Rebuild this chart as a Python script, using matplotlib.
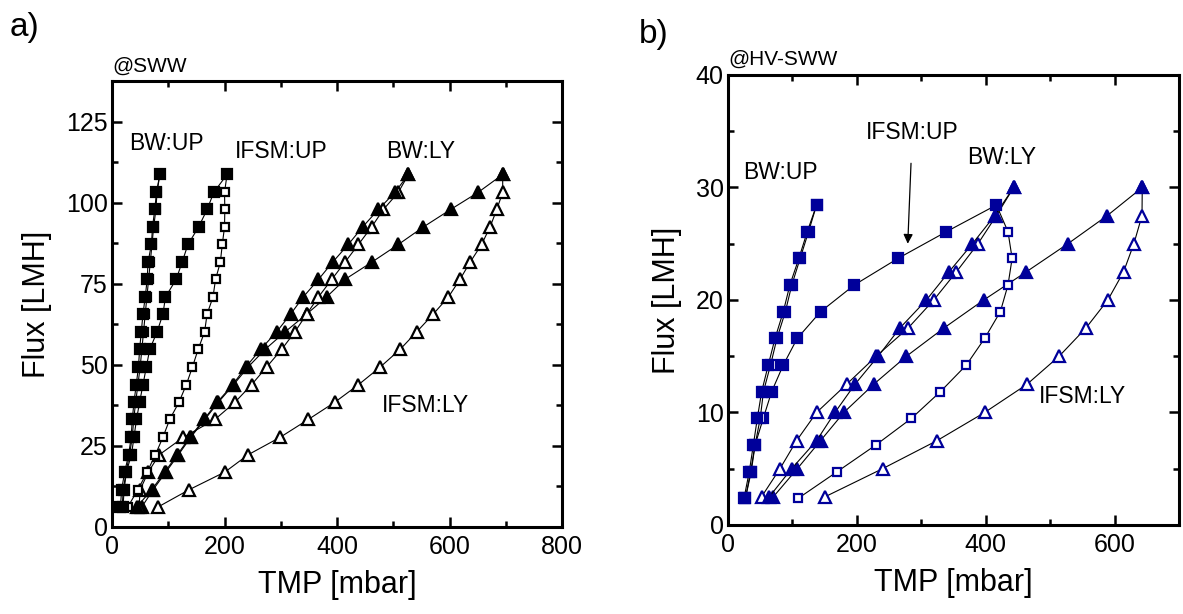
import matplotlib
matplotlib.use("Agg")
import matplotlib.pyplot as plt
from matplotlib.ticker import MultipleLocator

plt.rcParams['font.family'] = ['Liberation Sans', 'DejaVu Sans']

# ---- panel a) @SWW, flux steps [LMH] and TMP [mbar] ----
flux_a = [6.2, 11.5, 17, 22.3, 27.7, 33.2, 38.5, 43.9, 49.4, 54.8,
          60.2, 65.7, 71, 76.4, 81.7, 87.2, 92.6, 98, 103.3, 108.8]
bwup_a_up = [15, 17, 22.5, 29.5, 34, 36, 39, 43, 47, 49,
             52, 55, 59, 62.5, 64, 70, 72, 76, 79, 85]
bwup_a_down = [18, 20, 25, 31, 36, 38.5, 42, 46, 50, 53,
               56, 59, 62, 65, 68, 71, 74, 78, 80, 85]
ifsmup_a_up = [19.5, 21.5, 25.5, 34.5, 39, 43.5, 49, 55, 61, 67,
               80, 90.5, 95, 114, 124.5, 135, 154, 169, 181, 204.5]
ifsmup_a_down = [28, 46, 62.5, 77, 90.5, 102.5, 119, 132, 143, 153,
                 164.5, 169, 179.5, 184, 192.5, 196, 200, 200.5, 200, 204.5]
bwly_a_up = [44, 70.5, 94, 116, 138.5, 163.5, 187, 214.5, 238, 264,
             292.5, 317.5, 340, 367, 392, 420, 445.5, 473.5, 503, 527]
bwly_a_down = [48, 50, 64.5, 84, 127, 183, 218.5, 248, 275, 301.5,
               325, 346, 367, 390.5, 414, 438, 461.5, 482.5, 509, 527]
ifsmly_a_up = [53, 73, 96, 118, 140, 165, 189, 216, 242, 272,
               307.5, 346, 381.5, 414, 461.5, 509, 553.5, 602, 651, 694.5]
ifsmly_a_down = [82, 137, 201, 242, 299, 349, 396, 438, 477, 512,
                 541.5, 571, 598, 618.5, 636.5, 657, 672, 684, 694.5, 694.5]

# ---- panel b) @HV-SWW ----
flux_sq_b = [2.37, 4.74, 7.11, 9.48, 11.85, 14.22, 16.59, 18.96, 21.33, 23.7, 26.07, 28.44]
flux_tri_b = [2.5, 5, 7.5, 10, 12.5, 15, 17.5, 20, 22.5, 25, 27.5, 30]
bwup_b_up = [24.8, 33, 39.3, 45.5, 52.2, 62.5, 73, 85.8, 96, 110, 123, 137.5]
bwup_b_down = [27, 36, 42, 50, 55, 66, 76, 89, 99, 112, 125, 137.5]
ifsmup_b_up = [27, 35, 42, 54.7, 67.7, 85.8, 107.5, 143.7, 196, 264, 339, 416.6]
ifsmup_b_down = [109, 169.5, 229.5, 284.8, 329.7, 370, 398.4, 422.7, 434.6, 441, 434.6, 416.6]
bwly_b_up = [64, 98.7, 137.5, 166, 197, 233, 266.7, 308, 343, 379.4, 414, 443.4]
bwly_b_down = [52, 80.6, 106.5, 137.5, 184, 230, 279.5, 319.4, 354.5, 388, 416.6, 443.4]
ifsmly_b_up = [70.3, 107.5, 143.7, 179.8, 226, 277, 335, 397, 463, 527.6, 588.7, 643]
ifsmly_b_down = [150.4, 239.8, 324.5, 398.4, 464, 514, 555.5, 589.6, 614, 630, 642.6, 643]


def sweep(ax, x, y, marker, filled, color, ms, z):
    # thin black connecting line, coloured marker
    ax.plot(x, y, color='black', lw=0.8, zorder=z)
    ax.plot(x, y, ls='none', marker=marker, ms=ms, mew=1.6,
            mec=color, mfc=color if filled else 'white', zorder=z + 0.5)


def style(ax):
    for s in ax.spines.values():
        s.set_linewidth(2.2)
    ax.tick_params(which='both', direction='in', top=True, right=True,
                   labelsize=18, width=1.8)
    ax.tick_params(axis='x', pad=6)
    ax.tick_params(axis='y', pad=3)
    ax.tick_params(which='major', length=7)
    ax.tick_params(which='minor', length=4)
    ax.set_xlabel('TMP [mbar]', fontsize=22, labelpad=8)
    ax.set_ylabel('Flux [LMH]', fontsize=22, labelpad=10)


fig = plt.figure(figsize=(11.83, 6.14), dpi=100)

# a)
ax1 = fig.add_axes([0.0947, 0.1417, 0.3804, 0.7256])
k = 'black'
sweep(ax1, ifsmly_a_down, flux_a, '^', False, k, 8, 2)
sweep(ax1, ifsmly_a_up, flux_a, '^', True, k, 8, 3)
sweep(ax1, bwly_a_down, flux_a, '^', False, k, 8, 4)
sweep(ax1, bwly_a_up, flux_a, '^', True, k, 8, 5)
sweep(ax1, ifsmup_a_down, flux_a, 's', False, k, 5.8, 6)
sweep(ax1, ifsmup_a_up, flux_a, 's', True, k, 6.5, 7)
sweep(ax1, bwup_a_down, flux_a, 's', False, k, 6.2, 8)
sweep(ax1, bwup_a_up, flux_a, 's', True, k, 6.5, 9)
ax1.set_xlim(0, 800)
ax1.set_ylim(0, 137.5)
ax1.xaxis.set_major_locator(MultipleLocator(200))
ax1.xaxis.set_minor_locator(MultipleLocator(100))
ax1.yaxis.set_major_locator(MultipleLocator(25))
ax1.yaxis.set_minor_locator(MultipleLocator(12.5))
style(ax1)
ax1.set_title('@SWW', loc='left', fontsize=15, pad=7)
ax1.text(96, 118.5, 'BW:UP', fontsize=16.5, ha='center', va='center')
ax1.text(300, 116, 'IFSM:UP', fontsize=16.5, ha='center', va='center')
ax1.text(548, 116, 'BW:LY', fontsize=16.5, ha='center', va='center')
ax1.text(558, 37.5, 'IFSM:LY', fontsize=16.5, ha='center', va='center')

# b)
ax2 = fig.add_axes([0.6154, 0.1450, 0.3812, 0.7329])
b = '#00009a'
sweep(ax2, ifsmly_b_down, flux_tri_b, '^', False, b, 8, 2)
sweep(ax2, ifsmly_b_up, flux_tri_b, '^', True, b, 8, 3)
sweep(ax2, bwly_b_down, flux_tri_b, '^', False, b, 8, 4)
sweep(ax2, bwly_b_up, flux_tri_b, '^', True, b, 8, 5)
sweep(ax2, ifsmup_b_down, flux_sq_b, 's', False, b, 5.2, 6)
sweep(ax2, ifsmup_b_up, flux_sq_b, 's', True, b, 7.5, 7)
sweep(ax2, bwup_b_down, flux_sq_b, 's', False, b, 7, 8)
sweep(ax2, bwup_b_up, flux_sq_b, 's', True, b, 7.5, 9)
ax2.set_xlim(0, 700)
ax2.set_ylim(0, 40)
ax2.xaxis.set_major_locator(MultipleLocator(200))
ax2.xaxis.set_minor_locator(MultipleLocator(100))
ax2.yaxis.set_major_locator(MultipleLocator(10))
ax2.yaxis.set_minor_locator(MultipleLocator(5))
style(ax2)
ax2.set_title('@HV-SWW', loc='left', fontsize=15, pad=7)
ax2.text(81, 31.3, 'BW:UP', fontsize=16.5, ha='center', va='center')
ax2.text(425, 32.7, 'BW:LY', fontsize=16.5, ha='center', va='center')
ax2.text(550, 11.4, 'IFSM:LY', fontsize=16.5, ha='center', va='center')
ax2.annotate('IFSM:UP', xy=(279, 25.0), xytext=(286, 34.9), fontsize=16.5,
             ha='center', va='center',
             arrowprops=dict(arrowstyle='-|>', color='black', lw=0.9,
                             shrinkA=12, shrinkB=0, mutation_scale=14))

fig.text(0.008, 0.955, 'a)', fontsize=24, va='center')
fig.text(0.540, 0.943, 'b)', fontsize=24, va='center')

fig.savefig('out.png', dpi=100)
